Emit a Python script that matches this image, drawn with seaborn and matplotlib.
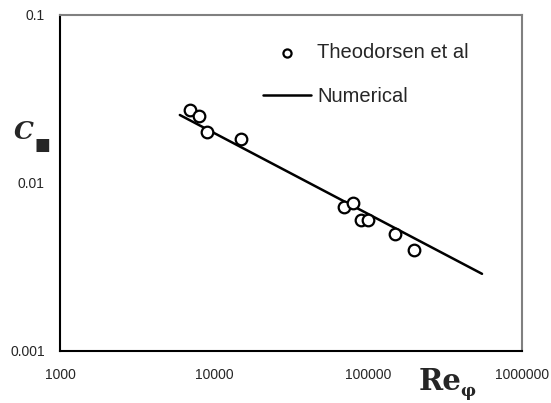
import numpy as np
import pandas as pd
import matplotlib
matplotlib.use("Agg")
import matplotlib.pyplot as plt
import matplotlib.ticker as mticker
from matplotlib.font_manager import FontProperties
import seaborn as sns

# Experimental points (Theodorsen et al)
re_exp = [7000, 8000, 9000, 15000, 70000, 80000, 90000, 100000, 150000, 200000]
cm_exp = [0.0272, 0.0251, 0.0201, 0.0183, 0.0072, 0.0076, 0.0060, 0.0060, 0.0050, 0.0040]

# Numerical curve
re_num = [6000, 550000]
cm_num = [0.0254, 0.00288]

exp_df = pd.DataFrame({"Re": re_exp, "Cm": cm_exp})
num_df = pd.DataFrame({"Re": re_num, "Cm": cm_num})

sns.set_style("white")
plt.rcParams["font.family"] = ["Liberation Sans", "DejaVu Sans"]

fig = plt.figure(figsize=(5.51, 4.03), dpi=100)
ax = fig.add_axes([60 / 551, 52 / 403, 462 / 551, 336 / 403])

sns.lineplot(data=num_df, x="Re", y="Cm", color="black", linewidth=1.8,
             label="Numerical", ax=ax, zorder=2)
sns.scatterplot(data=exp_df, x="Re", y="Cm", marker="o", s=70,
                facecolor="white", edgecolor="black", linewidth=1.6,
                label="Theodorsen et al", ax=ax, zorder=3)

ax.set_xscale("log")
ax.set_yscale("log")
ax.set_xlim(1000, 1000000)
ax.set_ylim(0.001, 0.1)

ax.xaxis.set_major_formatter(mticker.FuncFormatter(lambda v, p: f"{v:.0f}"))
ax.yaxis.set_major_formatter(mticker.FuncFormatter(lambda v, p: f"{v:g}"))
ax.xaxis.set_minor_formatter(mticker.NullFormatter())
ax.yaxis.set_minor_formatter(mticker.NullFormatter())
ax.xaxis.set_minor_locator(mticker.LogLocator(base=10, subs=np.arange(2, 10)))
ax.yaxis.set_minor_locator(mticker.LogLocator(base=10, subs=np.arange(2, 10)))

ax.tick_params(which="major", direction="inout", length=8, width=1.2,
               color="black", labelsize=10, pad=7)
ax.tick_params(which="minor", direction="in", length=3, width=1.0, color="black")
ax.tick_params(axis="x", pad=8)

for side in ["left", "bottom"]:
    ax.spines[side].set_color("black")
    ax.spines[side].set_linewidth(1.5)
for side in ["top", "right"]:
    ax.spines[side].set_color("#808080")
    ax.spines[side].set_linewidth(1.5)

ax.set_xlabel("")
ax.set_ylabel("")

handles, labels = ax.get_legend_handles_labels()
order = [labels.index("Theodorsen et al"), labels.index("Numerical")]
ax.legend([handles[i] for i in order], [labels[i] for i in order],
          loc="upper left", bbox_to_anchor=(263 / 551, 1 - 43 / 403),
          bbox_transform=fig.transFigure, frameon=False, fontsize=14.5,
          handlelength=2.4, handletextpad=0.3, labelspacing=1.25,
          borderpad=0, borderaxespad=0, markerscale=0.7)

# axis labels in a bold slab-serif face
c_font = FontProperties(family="DejaVu Serif", weight="bold", style="italic", size=18)
re_font = FontProperties(family="DejaVu Serif", weight="bold", size=21)
phi_font = FontProperties(family="DejaVu Serif", weight="bold", size=12)
fig.text(24 / 551, 1 - 132 / 403, "C", fontproperties=c_font, ha="center", va="center")
fig.text(42 / 551, 1 - 145 / 403, "\u25a0", fontsize=12,
         family="DejaVu Sans", ha="center", va="center")
fig.text(440 / 551, 1 - 381 / 403, "Re", fontproperties=re_font, ha="center", va="center")
fig.text(468 / 551, 1 - 392 / 403, "\u03c6", fontproperties=phi_font, ha="center", va="center")

fig.savefig("out.png", dpi=100)
